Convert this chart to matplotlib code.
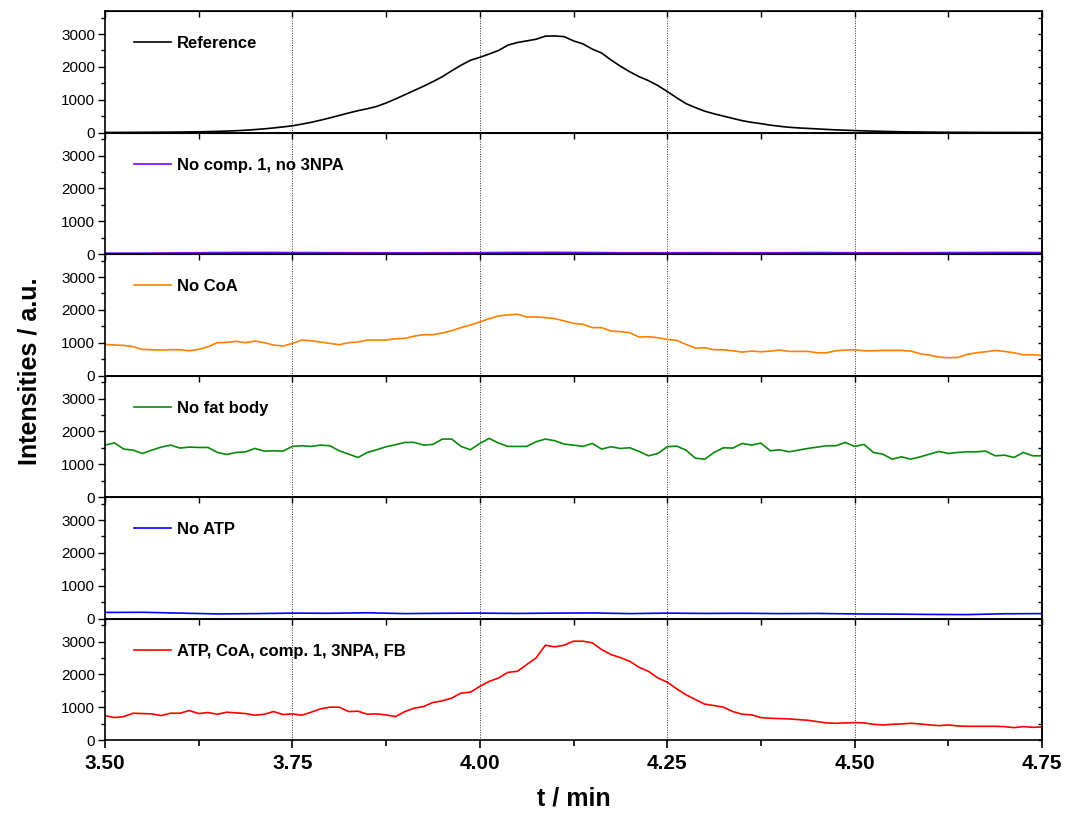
"""
Stacked LC-MS traces for the enzyme assay controls
"""

import numpy as np
import matplotlib
matplotlib.use("Agg")
import matplotlib.pyplot as plt
from matplotlib.ticker import MultipleLocator, FormatStrFormatter

plt.rcParams['font.family'] = ['Liberation Sans', 'DejaVu Sans']

# time grids (min)
t_fine = np.linspace(3.5, 4.75, 101)
t_coarse = np.linspace(3.5, 4.75, 26)

# Reference standard
reference = [2, 3, 4, 5, 7, 8, 10, 12, 15, 18,
             22, 28, 35, 44, 55, 70, 90, 112, 140, 170,
             205, 255, 310, 375, 445, 520, 595, 665, 725, 795,
             900, 1020, 1150, 1280, 1410, 1550, 1700, 1880, 2050, 2200,
             2290, 2390, 2500, 2660, 2740, 2790, 2840, 2935, 2940, 2920,
             2790, 2700, 2540, 2420, 2210, 2020, 1850, 1700, 1580, 1430,
             1250, 1060, 880, 760, 650, 570, 500, 430, 360, 310,
             270, 225, 190, 160, 140, 125, 110, 95, 80, 70,
             60, 50, 42, 35, 28, 22, 18, 15, 12, 10,
             8, 6, 5, 4, 3, 3, 2, 2, 1, 1, 0]

# No comp. 1, no 3NPA
no_comp1 = [25, 28, 35, 45, 48, 45, 42, 40, 35, 40,
            42, 48, 52, 45, 38, 40, 42, 38, 40, 45,
            40, 38, 42, 45, 48, 45]

# No CoA
no_coa = [948, 928, 918, 877, 795, 785, 775, 785, 785, 754,
          795, 877, 1000, 1010, 1040, 1000, 1050, 1000, 928, 897,
          978, 1080, 1060, 1020, 978, 938, 1000, 1020, 1080, 1080,
          1080, 1120, 1130, 1200, 1244, 1244, 1295, 1366, 1460, 1540,
          1630, 1733, 1815, 1845, 1866, 1784, 1784, 1764, 1733, 1662,
          1590, 1560, 1458, 1458, 1356, 1335, 1305, 1172, 1182, 1150,
          1100, 1070, 948, 836, 846, 785, 785, 754, 713, 744,
          723, 744, 775, 734, 734, 734, 693, 693, 754, 775,
          785, 754, 754, 764, 764, 764, 744, 662, 622, 560,
          540, 550, 642, 693, 723, 764, 734, 693, 632, 632, 612]

# No fat body
no_fat_body = [1581, 1650, 1460, 1428, 1326, 1428, 1520, 1581, 1490, 1520,
               1510, 1510, 1357, 1296, 1357, 1377, 1479, 1398, 1408, 1398,
               1541, 1561, 1541, 1581, 1561, 1408, 1306, 1204, 1357, 1439,
               1531, 1592, 1663, 1663, 1581, 1602, 1765, 1765, 1541, 1439,
               1632, 1785, 1643, 1541, 1541, 1541, 1683, 1765, 1714, 1612,
               1581, 1541, 1632, 1459, 1531, 1479, 1500, 1388, 1255, 1326,
               1531, 1551, 1428, 1184, 1153, 1357, 1500, 1490, 1632, 1581,
               1643, 1408, 1439, 1377, 1428, 1479, 1520, 1561, 1561, 1663,
               1541, 1602, 1357, 1306, 1153, 1224, 1153, 1224, 1306, 1388,
               1326, 1357, 1377, 1377, 1398, 1255, 1275, 1204, 1357, 1255, 1255]

# No ATP
no_atp = [185, 190, 165, 140, 150, 165, 160, 175, 150, 160,
          165, 155, 165, 170, 150, 165, 155, 160, 150, 155,
          140, 135, 125, 120, 145, 150]

# Complete assay
complete = [745, 684, 714, 816, 806, 796, 745, 816, 816, 898,
            806, 837, 786, 847, 827, 806, 755, 786, 867, 776,
            796, 755, 847, 949, 1000, 1000, 867, 878, 786, 796,
            765, 714, 867, 969, 1020, 1143, 1194, 1276, 1429, 1459,
            1633, 1786, 1888, 2061, 2092, 2296, 2500, 2888, 2837, 2888,
            3010, 3010, 2959, 2755, 2602, 2510, 2398, 2214, 2092, 1888,
            1765, 1561, 1378, 1235, 1092, 1051, 1000, 867, 786, 765,
            684, 663, 653, 643, 622, 602, 561, 520, 510, 520,
            531, 520, 480, 459, 480, 490, 510, 490, 459, 439,
            459, 429, 418, 418, 418, 418, 408, 378, 408, 388, 398]

traces = [
    (t_fine, reference, 'black', 'Reference'),
    (t_coarse, no_comp1, '#8000ff', 'No comp. 1, no 3NPA'),
    (t_fine, no_coa, '#ff8000', 'No CoA'),
    (t_fine, no_fat_body, '#0a8a0a', 'No fat body'),
    (t_coarse, no_atp, '#0000ff', 'No ATP'),
    (t_fine, complete, '#ff0000', 'ATP, CoA, comp. 1, 3NPA, FB'),
]

fig, axes = plt.subplots(6, 1, sharex=True, figsize=(10.68, 8.16), dpi=100)
fig.subplots_adjust(left=0.0983, right=0.9757, bottom=0.0931, top=0.9865, hspace=0)

for i, (ax, (t, y, color, label)) in enumerate(zip(axes, traces)):
    ax.plot(t, y, color=color, lw=1.2, label=label)
    ax.set_xlim(3.5, 4.75)
    ax.set_ylim(0, 3700)
    ax.yaxis.set_major_locator(MultipleLocator(1000))
    ax.yaxis.set_minor_locator(MultipleLocator(500))
    ax.xaxis.set_major_locator(MultipleLocator(0.25))
    ax.xaxis.set_minor_locator(MultipleLocator(0.125))
    for v in [3.75, 4.0, 4.25, 4.5]:
        ax.axvline(v, color='0.2', lw=0.7, ls=(0, (1, 1.5)), zorder=0)
    for s in ax.spines.values():
        s.set_linewidth(1.2)

    ax.tick_params(axis='y', which='major', direction='out', length=5, width=1,
                   labelsize=11, pad=2)
    ax.tick_params(axis='y', which='minor', direction='out', length=3, width=1)

    # inward ticks on the right and top edges
    sy = ax.secondary_yaxis('right')
    sy.yaxis.set_major_locator(MultipleLocator(1000))
    sy.yaxis.set_minor_locator(MultipleLocator(500))
    sy.tick_params(which='both', direction='in', length=3, width=1, labelright=False)
    sy.spines['right'].set_linewidth(1.2)
    sx = ax.secondary_xaxis('top')
    sx.xaxis.set_major_locator(MultipleLocator(0.25))
    sx.xaxis.set_minor_locator(MultipleLocator(0.125))
    sx.tick_params(which='both', direction='in', length=4, width=1, labeltop=False)

    if i < 5:
        ax.tick_params(axis='x', which='both', bottom=False)
    else:
        ax.tick_params(axis='x', which='major', direction='out', length=6, width=1.2,
                       labelsize=15, pad=4)
        ax.tick_params(axis='x', which='minor', direction='out', length=4, width=1.2)
        ax.xaxis.set_major_formatter(FormatStrFormatter('%.2f'))
        for lab in ax.get_xticklabels():
            lab.set_fontweight('bold')

    ax.legend(loc='center left', bbox_to_anchor=(0.015, 0.73), frameon=False,
              handlelength=2.2, handletextpad=0.4,
              prop={'weight': 'bold', 'size': 12})

axes[-1].set_xlabel('t / min', fontsize=18, fontweight='bold', labelpad=10)
fig.text(0.028, 0.545, 'Intensities / a.u.', rotation=90, fontsize=18,
         fontweight='bold', ha='center', va='center')

fig.savefig('out.png', dpi=100)
